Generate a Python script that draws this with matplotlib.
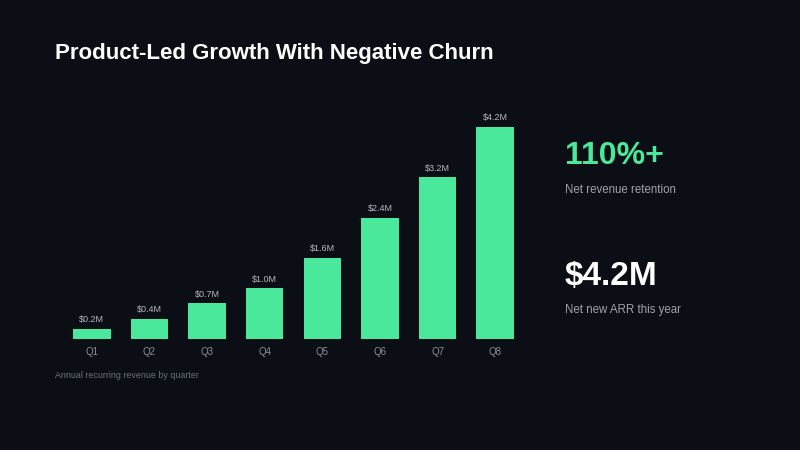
import matplotlib.pyplot as plt

# data
quarters = ["Q1", "Q2", "Q3", "Q4", "Q5", "Q6", "Q7", "Q8"]
arr_millions = [0.2, 0.4, 0.7, 1.0, 1.6, 2.4, 3.2, 4.2]
bar_labels = ["$0.2M", "$0.4M", "$0.7M", "$1.0M", "$1.6M", "$2.4M", "$3.2M", "$4.2M"]

title = "Product-Led Growth With Negative Churn"
caption = "Annual recurring revenue by quarter"
kpi_values = ["110%+", "$4.2M"]
kpi_labels = ["Net revenue retention", "Net new ARR this year"]

BG = "#0b0e14"
GREEN = "#4ae89a"

plt.rcParams["font.family"] = ["Liberation Sans", "DejaVu Sans"]

fig = plt.figure(figsize=(8, 4.5), dpi=100, facecolor=BG)

# axes placed so that bars land where the reference has them
ax = fig.add_axes([63 / 800, 1 - 338.7 / 450, 461 / 800, 212 / 450])
ax.set_facecolor(BG)

x = range(len(quarters))
bars = ax.bar(x, arr_millions, width=0.65, color=GREEN)

for rect, lab in zip(bars, bar_labels):
    ax.text(rect.get_x() + rect.get_width() / 2, rect.get_height() + 0.09, lab,
            ha="center", va="bottom", fontsize=6.5, color="#b4b8bf",
            clip_on=False)

ax.set_xlim(-0.5, 7.5)
ax.set_ylim(0, 4.2)
ax.set_xticks(list(x))
ax.set_xticklabels(quarters, fontsize=7, color="#8a8f98")
ax.tick_params(axis="x", length=0, pad=6)
ax.set_yticks([])
for s in ax.spines.values():
    s.set_visible(False)

# title and caption
fig.text(55 / 800, 1 - 54 / 450, title, fontsize=16, fontweight="bold",
         color="white", ha="left", va="center")
fig.text(55 / 800, 1 - 375 / 450, caption, fontsize=6.4, color="#6b7080",
         ha="left", va="center")

# KPI panel
fig.text(565 / 800, 1 - 156 / 450, kpi_values[0], fontsize=23, fontweight="bold",
         color=GREEN, ha="left", va="center")
fig.text(565 / 800, 1 - 190 / 450, kpi_labels[0], fontsize=8.3,
         color="#a0a4ab", ha="left", va="center")
fig.text(565 / 800, 1 - 276 / 450, kpi_values[1], fontsize=24, fontweight="bold",
         color="white", ha="left", va="center")
fig.text(565 / 800, 1 - 310 / 450, kpi_labels[1], fontsize=8.3,
         color="#a0a4ab", ha="left", va="center")

fig.savefig("out.png", dpi=100, facecolor=BG)
plt.close(fig)
